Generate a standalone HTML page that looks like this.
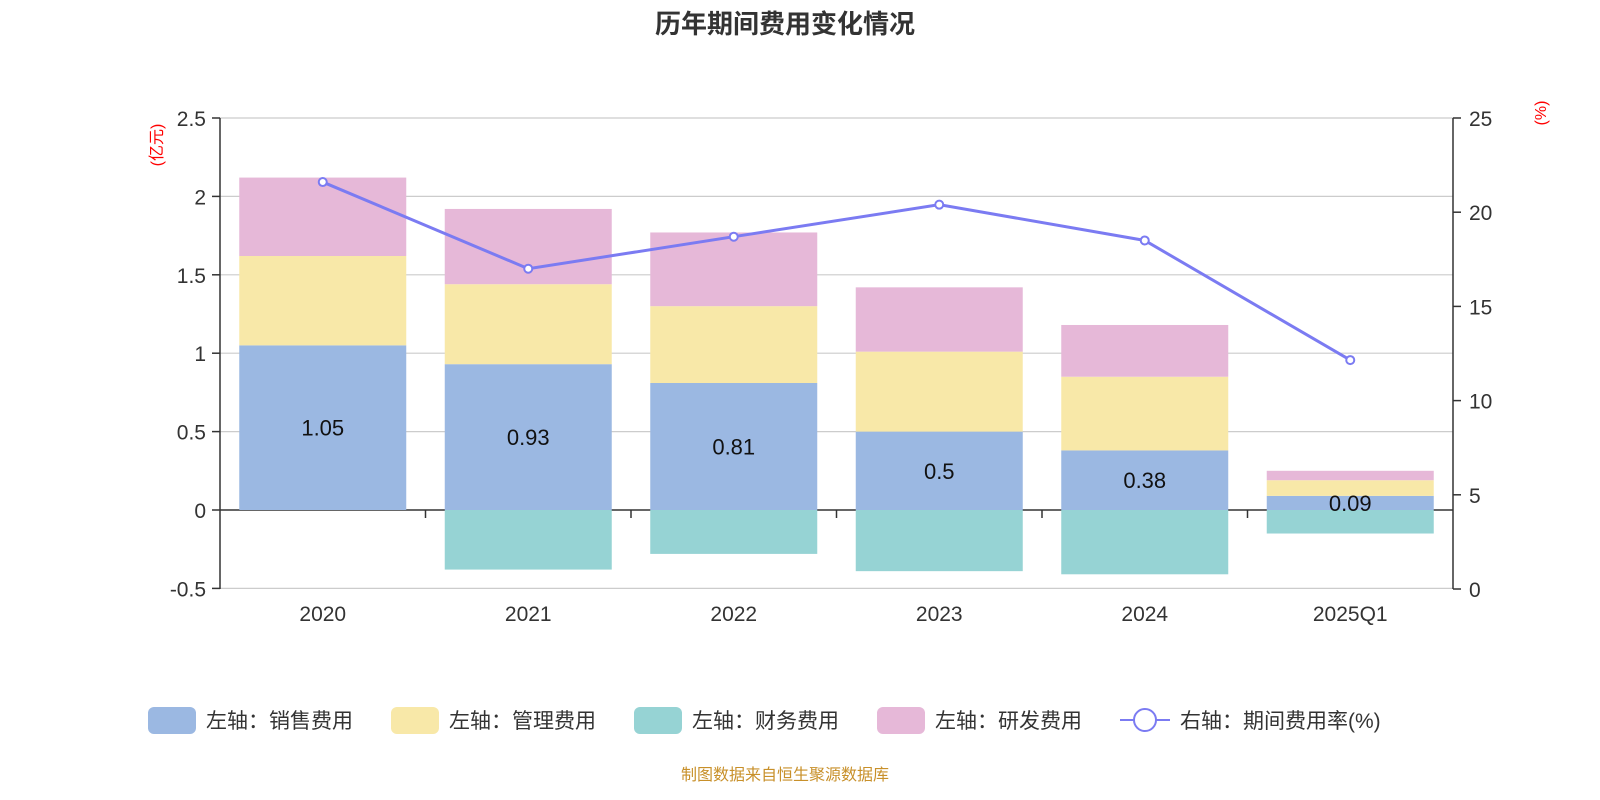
<!DOCTYPE html>
<html><head><meta charset="utf-8"><style>
body{margin:0;background:#fff;}
svg{display:block;font-family:"Liberation Sans","Noto Sans CJK SC",sans-serif;}
</style></head><body>
<svg id="chart" width="1600" height="800">
<text x="785" y="33" text-anchor="middle" font-size="26" font-weight="bold" fill="#333">历年期间费用变化情况</text>
<text transform="translate(162,145) rotate(-90)" text-anchor="middle" font-size="16" fill="#f00">(亿元)</text>
<text transform="translate(1546,113) rotate(-90)" text-anchor="middle" font-size="16" fill="#f00">(%)</text>
<g id="grid"></g><g id="bars"></g><g id="axes"></g><g id="line"></g>
<g id="legend" font-size="21" fill="#333"></g>
<text x="785" y="780" text-anchor="middle" font-size="16" fill="#c8902a">制图数据来自恒生聚源数据库</text>
</svg>
<script>
const categories=["2020","2021","2022","2023","2024","2025Q1"];
const sales=[1.05,0.93,0.81,0.5,0.38,0.09];
const mgmt=[0.57,0.51,0.49,0.51,0.47,0.10];
const finance=[0,-0.38,-0.28,-0.39,-0.41,-0.15];
const research=[0.50,0.48,0.47,0.41,0.33,0.06];
const rate=[21.6,17.0,18.7,20.4,18.5,12.15];
const leftTicks=[-0.5,0,0.5,1,1.5,2,2.5];
const rightTicks=[0,5,10,15,20,25];
const NS="http://www.w3.org/2000/svg";
const X0=220,X1=1453,Ytop=118,Ybot=589;
const yL=v=>510-(v*156.8);
const yR=v=>Ybot-(v/25)*(Ybot-Ytop);
const band=(X1-X0)/categories.length;
const xC=i=>X0+band*(i+0.5);
function mk(tag,attrs,parent,text){const e=document.createElementNS(NS,tag);for(const k in attrs)e.setAttribute(k,attrs[k]);if(text!==undefined)e.textContent=text;document.getElementById(parent).appendChild(e);return e;}
leftTicks.forEach(t=>{
 const g=mk('line',{x1:X0,x2:X1,y1:yL(t),y2:yL(t),stroke:t===0?'#333':'#ccc','stroke-width':t===0?1.5:1.2},'grid');
 
 
 mk('line',{x1:X0-8,x2:X0,y1:yL(t),y2:yL(t),stroke:'#333','stroke-width':1.5},'axes');
 const l=mk('text',{x:X0-14,y:yL(t)+8,'text-anchor':'end','font-size':21,fill:'#333'},'axes',String(t));
 
 
});
rightTicks.forEach(t=>{
 mk('line',{x1:X1,x2:X1+8,y1:yR(t),y2:yR(t),stroke:'#333','stroke-width':1.5},'axes');
 const l=mk('text',{x:X1+16,y:yR(t)+8,'font-size':21,fill:'#333'},'axes',String(t));
 
 
});
mk('line',{x1:X0,x2:X0,y1:Ytop,y2:Ybot,stroke:'#333','stroke-width':1.5},'axes');
mk('line',{x1:X1,x2:X1,y1:Ytop,y2:Ybot,stroke:'#333','stroke-width':1.5},'axes');
const bw=167;
categories.forEach((c,i)=>{
 const x=xC(i)-bw/2;
 let base=0;
 [[sales,'#9bb8e2','bar-sales'],[mgmt,'#f8e8a8','bar-mgmt'],[research,'#e6b8d8','bar-research']].forEach(([arr,col,name])=>{
  const v=arr[i];const r=mk('rect',{x:x,y:yL(base+v),width:bw,height:yL(base)-yL(base+v),fill:col},'bars');
  
  
  base+=v;
 });
 const f=finance[i];
 const fr=mk('rect',{x:x,y:yL(0),width:bw,height:yL(f)-yL(0),fill:'#96d3d4'},'bars');
 
 
 const sl=mk('text',{x:xC(i),y:(yL(0)+yL(sales[i]))/2+8,'text-anchor':'middle','font-size':22,fill:'#111'},'bars',String(sales[i]));
 
 
 if(i>0)mk('line',{x1:X0+band*i,x2:X0+band*i,y1:510,y2:518,stroke:'#333','stroke-width':1.5},'axes');
 const cl=mk('text',{x:xC(i),y:621,'text-anchor':'middle','font-size':21,fill:'#333'},'axes',c);
 
 
});
const pl=mk('polyline',{points:rate.map((v,i)=>xC(i)+','+yR(v)).join(' '),fill:'none',stroke:'#7b7bf2','stroke-width':3},'line');


rate.forEach((v,i)=>{const p=mk('circle',{cx:xC(i),cy:yR(v),r:4,fill:'#fff',stroke:'#7b7bf2','stroke-width':2},'line');
 
 });
const leg=[["左轴：销售费用",'#9bb8e2',148],["左轴：管理费用",'#f8e8a8',391],["左轴：财务费用",'#96d3d4',634],["左轴：研发费用",'#e6b8d8',877]];
leg.forEach(([t,c,x])=>{
 const r=mk('rect',{x:x,y:707,width:48,height:27,rx:6,fill:c},'legend');
 
 
 const tx=mk('text',{x:x+58,y:728},'legend',t);
 
 
});
mk('line',{x1:1120,x2:1170,y1:720,y2:720,stroke:'#7b7bf2','stroke-width':2},'legend');
const lc=mk('circle',{cx:1145,cy:720,r:11,fill:'#fff',stroke:'#7b7bf2','stroke-width':2},'legend');


const lt=mk('text',{x:1180,y:728},'legend',"右轴：期间费用率(%)");


</script>
</body></html>
